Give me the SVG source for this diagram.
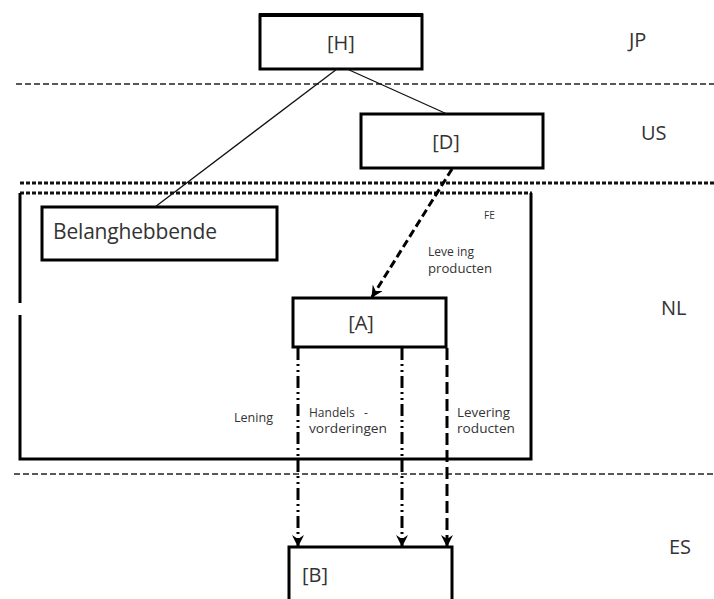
<svg xmlns="http://www.w3.org/2000/svg" width="714" height="599" viewBox="0 0 714 599">
<style>
.box{fill:#fff;stroke:#000;stroke-width:3}
.lbl{font-family:"Open Sans","DejaVu Sans",sans-serif;fill:#333}
.big{font-size:20px}
.sm{font-size:12px}
.sep{fill:none;stroke:#222;stroke-width:1.5;stroke-dasharray:6 3}
.dot{fill:none;stroke:#111;stroke-width:3;stroke-dasharray:4 2}
.thin{fill:none;stroke:#111;stroke-width:1.3}
.ddd{fill:none;stroke:#000;stroke-width:3;stroke-dasharray:12 4 2 4 2 4}
.ld{fill:none;stroke:#000;stroke-width:3;stroke-dasharray:12 5}
.da{fill:none;stroke:#000;stroke-width:3;stroke-dasharray:8 4}
</style>
<defs>
<marker id="ah" viewBox="0 0 12 12" refX="11" refY="6" markerWidth="12" markerHeight="12" markerUnits="userSpaceOnUse" orient="auto">
<path d="M0,0 L12,6 L0,12 L4,6 z" fill="#000"/>
</marker>
</defs>
<g id="separators">
<line class="sep" x1="16" y1="84" x2="714" y2="84"/>
<line class="dot" x1="20" y1="183" x2="714" y2="183"/>
<line class="sep" x1="14" y1="474" x2="714" y2="474"/>
</g>
<g id="FE">
<line class="dot" x1="20" y1="193" x2="532" y2="193"/>
<path d="M20,193 V303 M20,315 V459 H531 V193" fill="none" stroke="#000" stroke-width="3"/>
<text class="lbl" x="484" y="219" font-size="10">FE</text>
</g>
<g id="H">
<rect class="box" x="260" y="15" width="162" height="54"/>
<line x1="259" y1="15" x2="423" y2="15" stroke="#000" stroke-width="4"/>
<text class="lbl big" x="341" y="50" text-anchor="middle">[H]</text>
</g>
<g id="JP"><text class="lbl big" x="629" y="47">JP</text></g>
<g id="D">
<rect class="box" x="361" y="114" width="182" height="54" stroke-width="2"/>
<text class="lbl big" x="446" y="149" text-anchor="middle">[D]</text>
</g>
<g id="US"><text class="lbl big" x="641" y="140">US</text></g>
<g id="Belanghebbende">
<rect class="box" x="42" y="207" width="235" height="53"/>
<text class="lbl" x="53" y="239" font-size="21" textLength="164" lengthAdjust="spacing">Belanghebbende</text>
</g>
<g id="A">
<rect class="box" x="293" y="298" width="153" height="49"/>
<text class="lbl big" x="361" y="330" text-anchor="middle">[A]</text>
</g>
<g id="NL"><text class="lbl big" x="661" y="315">NL</text></g>
<g id="B">
<path d="M289,601 V547 H452 V601" class="box"/>
<text class="lbl big" x="302" y="582">[B]</text>
</g>
<g id="ES"><text class="lbl big" x="669" y="554">ES</text></g>
<g id="connectors">
<line class="thin" x1="337" y1="69" x2="155" y2="207"/>
<line class="thin" x1="347" y1="69" x2="447" y2="114"/>
<line class="da" x1="452" y1="169" x2="372" y2="297" marker-end="url(#ah)"/>
<line class="ddd" x1="298" y1="348" x2="298" y2="546" marker-end="url(#ah)"/>
<line class="ddd" x1="402" y1="348" x2="402" y2="546" marker-end="url(#ah)"/>
<line class="ld" x1="447" y1="348" x2="447" y2="546" marker-end="url(#ah)"/>
</g>
<g id="labels">
<text class="lbl sm" x="428" y="256" textLength="46" lengthAdjust="spacingAndGlyphs">Leve ing</text>
<text class="lbl sm" x="428" y="273" textLength="64" lengthAdjust="spacingAndGlyphs">producten</text>
<text class="lbl sm" x="234" y="422" textLength="39" lengthAdjust="spacingAndGlyphs">Lening</text>
<text class="lbl sm" x="309" y="417" xml:space="preserve">Handels   -</text>
<text class="lbl sm" x="309" y="433" textLength="78" lengthAdjust="spacingAndGlyphs">vorderingen</text>
<text class="lbl sm" x="457" y="417" textLength="53" lengthAdjust="spacingAndGlyphs">Levering</text>
<text class="lbl sm" x="457" y="433" textLength="58" lengthAdjust="spacingAndGlyphs">roducten</text>
</g>
</svg>
